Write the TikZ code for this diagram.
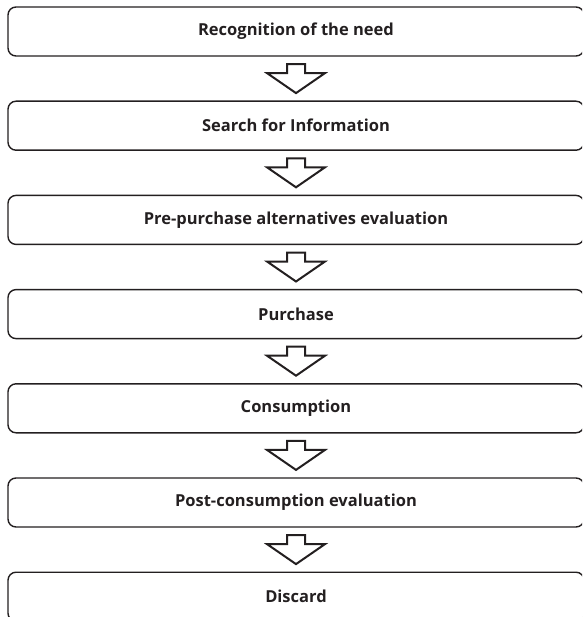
\documentclass[tikz,border=0pt]{standalone}
\usepackage{fontspec}
\setmainfont{Open Sans}
\definecolor{ink}{HTML}{231F20}
\begin{document}
\begin{tikzpicture}[x=1pt,y=1pt,
  stage/.style={draw=ink, line width=1.4pt, rounded corners=8pt, minimum width=576pt, minimum height=49pt, inner sep=0pt, text=ink, font=\bfseries\fontsize{16.5}{19}\selectfont},
  arrowline/.style={draw=ink, line width=2pt, line join=miter},
  downarrow/.pic={\draw[arrowline] (-9,14.5) -- (9,14.5) -- (9,5.5) -- (29,5.5) -- (0,-14.5) -- (-29,5.5) -- (-9,5.5) -- cycle;}
]
\useasboundingbox (0,0) rectangle (582,-617);
\clip (0,0) rectangle (582,-617);
\node[stage] (s1) at (296,-31.5) {Recognition of the need};
\node[stage] (s2) at (296,-125.7) {Search for Information};
\node[stage] (s3) at (296,-219.9) {Pre-purchase alternatives evaluation};
\node[stage] (s4) at (296,-314.1) {Purchase};
\node[stage] (s5) at (296,-408.3) {Consumption};
\node[stage] (s6) at (296,-502.5) {Post-consumption evaluation};
\node[stage] (s7) at (296,-596.7) {Discard};
\foreach \a/\b in {s1/s2,s2/s3,s3/s4,s4/s5,s5/s6,s6/s7}{
  \path (\a.south) -- (\b.north) coordinate[midway] (m\a);
  \pic at (m\a) {downarrow};
}
\end{tikzpicture}
\end{document}
